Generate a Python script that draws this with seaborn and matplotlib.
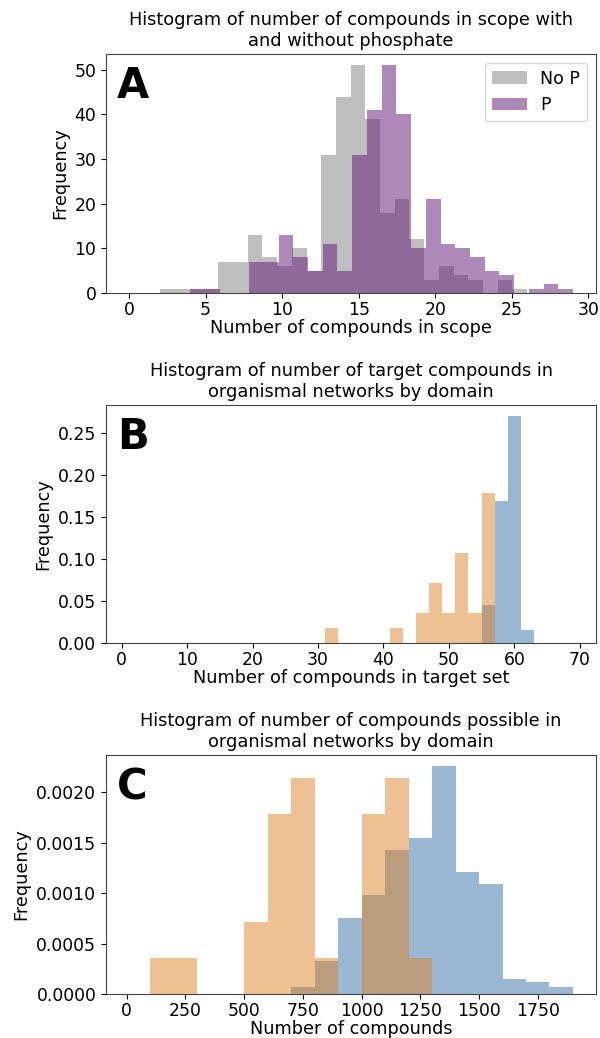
import numpy as np
import pandas as pd
import matplotlib
matplotlib.use("Agg")
import matplotlib.pyplot as plt
import seaborn as sns

# ---------------- Data ----------------
# Panel A: counts per bin
a_nop_edges_range = (2, 26)
a_nop_counts = [1, 1, 1, 1, 7, 7, 13, 8, 6, 10, 5, 31, 44, 51, 39, 18, 21, 12, 3, 6, 4, 3, 0, 3, 1]
a_p_edges_range = (4, 29)
a_p_counts = [1, 1, 0, 0, 7, 7, 13, 8, 5, 11, 5, 31, 41, 51, 40, 10, 21, 11, 10, 8, 5, 4, 0, 1, 2, 1]

# Panel B: target compounds (orange counts, blue densities)
b_orange_edges_range = (31, 57)
b_orange_counts = [1, 0, 0, 0, 0, 1, 0, 2, 4, 2, 6, 2, 10]
b_blue_edges_range = (55, 63)
b_blue_density = [0.045, 0.1705, 0.2716, 0.016]

# Panel C: compounds possible
c_orange_edges_range = (100, 1300)
c_orange_counts = [1, 1, 0, 0, 2, 5, 6, 1, 0, 5, 6, 1]
c_blue_edges_range = (700, 1900)
c_blue_density = [0.0000695, 0.000331, 0.000748, 0.00098, 0.001427, 0.001543,
                  0.002255, 0.001209, 0.001086, 0.000152, 0.000119, 0.0000729]

titles = ["Histogram of number of compounds in scope with\nand without phosphate",
          "Histogram of number of target compounds in\norganismal networks by domain",
          "Histogram of number of compounds possible in\norganismal networks by domain"]
xlabels = ["Number of compounds in scope", "Number of compounds in target set",
           "Number of compounds"]
letters = ["A", "B", "C"]

GRAY = "#808080"
PURPLE = "#611575"
BLUE = "#3771a9"
ORANGE = "#dd8529"

plt.rcParams["font.family"] = ["DejaVu Sans"]
plt.rcParams["font.size"] = 12

fig = plt.figure(figsize=(6, 10.38), dpi=100)
W, H = 600, 1038
def add_ax(left, right, top, bottom):
    return fig.add_axes([left / W, 1 - bottom / H, (right - left) / W, (bottom - top) / H])

axA = add_ax(106, 596, 54, 293)
axB = add_ax(106, 596, 405, 643)
axC = add_ax(106, 596, 755, 994)

def hist(ax, rng, vals, color, stat, label=None):
    edges = np.linspace(rng[0], rng[1], len(vals) + 1)
    centers = (edges[:-1] + edges[1:]) / 2
    df = pd.DataFrame({"x": centers, "w": np.asarray(vals, dtype=float)})
    sns.histplot(data=df, x="x", weights="w", bins=list(edges), stat=stat, color=color,
                 alpha=0.5, linewidth=0, ax=ax, label=label)

# A
hist(axA, a_nop_edges_range, a_nop_counts, GRAY, "count", "No P")
hist(axA, a_p_edges_range, a_p_counts, PURPLE, "count", "P")
axA.set_xlim(-1.5, 30.5)
axA.legend(loc="upper right", fontsize=12.5)

# B
hist(axB, b_blue_edges_range, b_blue_density, BLUE, "density")
hist(axB, b_orange_edges_range, b_orange_counts, ORANGE, "density")
axB.set_xlim(-2.4, 72.5)

# C
hist(axC, c_blue_edges_range, c_blue_density, BLUE, "density")
hist(axC, c_orange_edges_range, c_orange_counts, ORANGE, "density")
axC.set_xlim(-88, 1998)

for ax, t, xl, let in zip([axA, axB, axC], titles, xlabels, letters):
    ax.set_title(t, fontsize=12.8)
    ax.set_xlabel(xl, fontsize=12.7, labelpad=0.5)
    ax.set_ylabel("Frequency", fontsize=12.7)
    ax.tick_params(labelsize=12.4)
    ax.tick_params(axis="x", pad=2)
    ax.text(0.022, 0.953, let, transform=ax.transAxes, fontsize=30,
            fontweight="bold", va="top", ha="left")
    for s in ax.spines.values():
        s.set_color("#444444")

fig.savefig("out.png", dpi=100)
